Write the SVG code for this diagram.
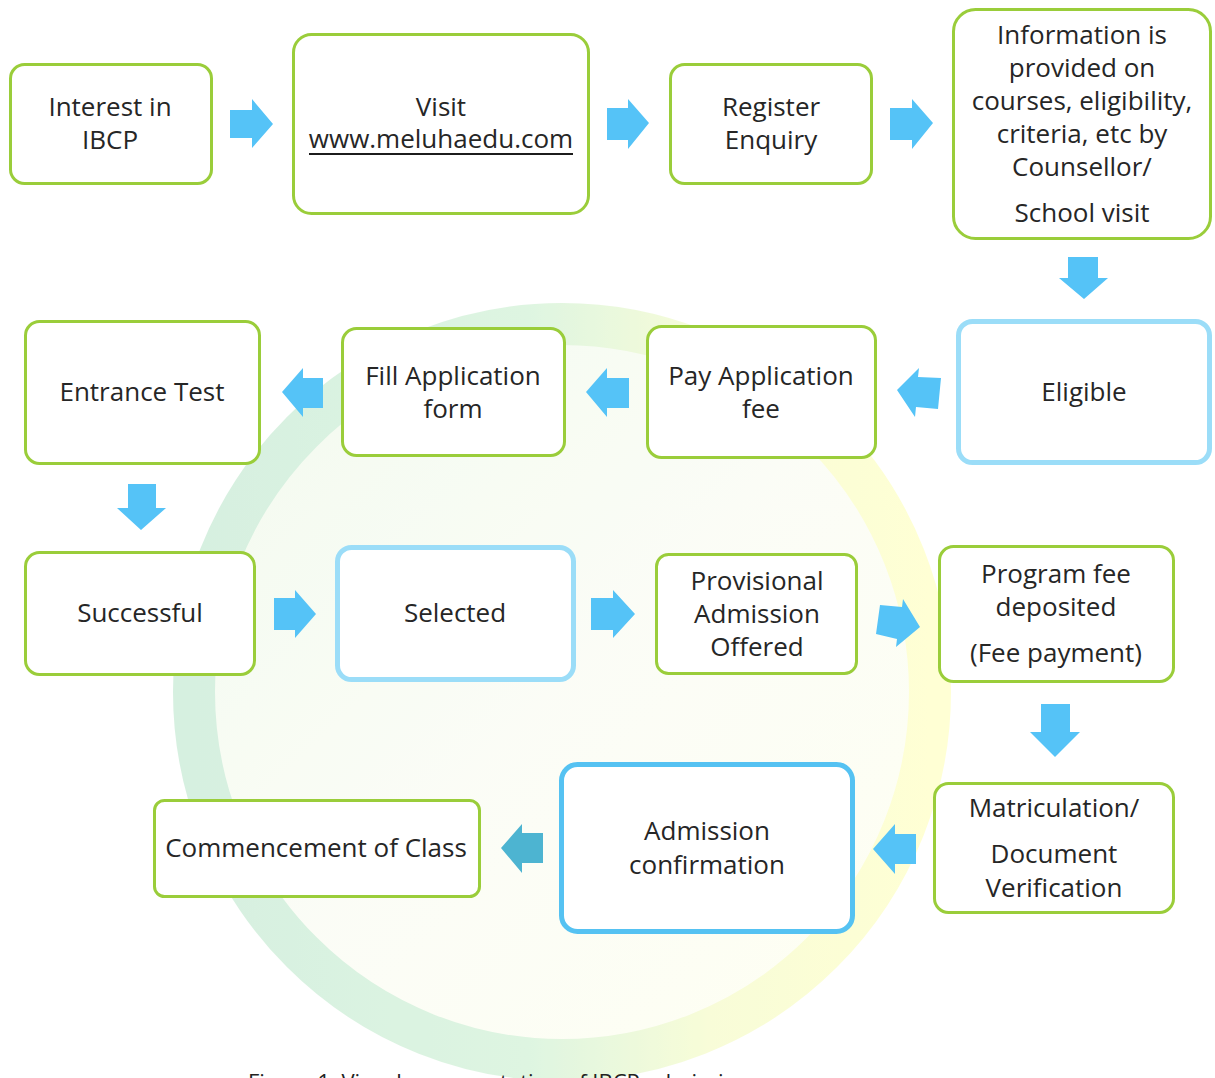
<svg xmlns="http://www.w3.org/2000/svg" width="1215" height="1078" viewBox="0 0 1215 1078">
<style>
.g{fill:#fff;stroke:#9ACD3A;stroke-width:3}
.lb{fill:#fff;stroke:#9BDDF8;stroke-width:5}
.bb{fill:#fff;stroke:#55C2F2;stroke-width:5}
.t{font-family:"Open Sans","Noto Sans","Liberation Sans",sans-serif;font-size:26px;fill:#262626;text-anchor:middle}
.a{fill:#55C3F7}
.cap{font-family:"Open Sans","Noto Sans","Liberation Sans",sans-serif;font-size:22px;fill:#222}
</style>
<defs>
<linearGradient id="ring" x1="0" y1="0" x2="1" y2="0">
<stop offset="0" stop-color="#C9EBD6"/>
<stop offset="0.45" stop-color="#D3F2D8"/>
<stop offset="0.7" stop-color="#F6FCCB"/>
<stop offset="1" stop-color="#FFFFC6"/>
</linearGradient>
<linearGradient id="disc" x1="0" y1="0" x2="1" y2="1">
<stop offset="0" stop-color="#E3F4DC"/>
<stop offset="0.5" stop-color="#F7FBEC"/>
<stop offset="1" stop-color="#FFFFE4"/>
</linearGradient>
</defs>
<rect width="1215" height="1078" fill="#fff"/>
<g id="watermark" opacity="0.75">
<circle cx="562" cy="692" r="355" fill="url(#disc)" opacity="0.6"/>
<circle cx="562" cy="692" r="368" fill="none" stroke="url(#ring)" stroke-width="42"/>
</g>
<g id="connectors">
<polygon id="a1" class="a" points="230,110 252,110 252,99 273,124 252,148 252,138 230,138"/>
<polygon id="a2" class="a" points="607,108 628,108 628,99 649,123 628,149 628,140 607,140"/>
<polygon id="a3" class="a" points="890,108 912,108 912,99 933,123 912,149 912,140 890,140"/>
<polygon id="a4" class="a" points="1068,257 1098,257 1098,278 1108,278 1084,299 1059,278 1068,278"/>
<polygon id="a5" class="a" points="897,390 919,368 918,377 941,378 938,409 916,407 915,417"/>
<polygon id="a6" class="a" points="586,392 607,368 607,378 629,378 629,408 607,408 607,417"/>
<polygon id="a7" class="a" points="282,392 303,368 303,378 323,378 323,408 303,408 303,417"/>
<polygon id="a8" class="a" points="128,484 156,484 156,508 166,508 141,530 117,508 128,508"/>
<polygon id="a9" class="a" points="274,598 295,598 295,590 316,614 295,638 295,630 274,630"/>
<polygon id="a10" class="a" points="591,598 613,598 613,590 635,614 613,638 613,630 591,630"/>
<polygon id="a11" class="a" points="880,605 902,607 903,599 920,627 896,647 897,639 876,634"/>
<polygon id="a12" class="a" points="1041,704 1070,704 1070,732 1080,732 1055,757 1030,732 1041,732"/>
<polygon id="a13" class="a" points="873,849 895,824 895,834 916,834 916,864 895,864 895,874"/>
<polygon id="a14" fill="#4DB4D1" points="501,848 522,824 522,833 543,833 543,863 522,863 522,873"/>
</g>
<g id="n1"><rect class="g" x="10.5" y="64.5" width="201" height="119" rx="14"/><text class="t" x="110" y="116">Interest in</text><text class="t" x="110" y="149">IBCP</text></g>
<g id="n2"><rect class="g" x="293.5" y="34.5" width="295" height="179" rx="18"/><text class="t" x="441" y="116">Visit</text><text class="t" x="441" y="148">www.meluhaedu.com</text><line x1="309" y1="154" x2="573" y2="154" stroke="#1c1c1c" stroke-width="2"/></g>
<g id="n3"><rect class="g" x="670.5" y="64.5" width="201" height="119" rx="14"/><text class="t" x="771" y="116">Register</text><text class="t" x="771" y="149">Enquiry</text></g>
<g id="n4"><rect class="g" x="953.5" y="9.5" width="257" height="229" rx="22"/><text class="t" x="1082" y="44">Information is</text><text class="t" x="1082" y="77">provided on</text><text class="t" x="1082" y="110">courses, eligibility,</text><text class="t" x="1082" y="143">criteria, etc by</text><text class="t" x="1082" y="176">Counsellor/</text><text class="t" x="1082" y="222">School visit</text></g>
<g id="n5"><rect class="lb" x="958.5" y="321.5" width="251" height="141" rx="14"/><text class="t" x="1084" y="401">Eligible</text></g>
<g id="n6"><rect class="g" x="647.5" y="326.5" width="228" height="131" rx="14"/><text class="t" x="761" y="385">Pay Application</text><text class="t" x="761" y="418">fee</text></g>
<g id="n7"><rect class="g" x="342.5" y="328.5" width="222" height="127" rx="14"/><text class="t" x="453" y="385">Fill Application</text><text class="t" x="453" y="418">form</text></g>
<g id="n8"><rect class="g" x="25.5" y="321.5" width="234" height="142" rx="14"/><text class="t" x="142" y="401">Entrance Test</text></g>
<g id="n9"><rect class="g" x="25.5" y="552.5" width="229" height="122" rx="14"/><text class="t" x="140" y="622">Successful</text></g>
<g id="n10"><rect class="lb" x="337.5" y="547.5" width="236" height="132" rx="14"/><text class="t" x="455" y="622">Selected</text></g>
<g id="n11"><rect class="g" x="656.5" y="554.5" width="200" height="119" rx="12"/><text class="t" x="757" y="590">Provisional</text><text class="t" x="757" y="623">Admission</text><text class="t" x="757" y="656">Offered</text></g>
<g id="n12"><rect class="g" x="939.5" y="546.5" width="234" height="135" rx="14"/><text class="t" x="1056" y="583">Program fee</text><text class="t" x="1056" y="616">deposited</text><text class="t" x="1056" y="662">(Fee payment)</text></g>
<g id="n13"><rect class="g" x="934.5" y="783.5" width="239" height="129" rx="14"/><text class="t" x="1054" y="817">Matriculation/</text><text class="t" x="1054" y="863">Document</text><text class="t" x="1054" y="897">Verification</text></g>
<g id="n14"><rect class="bb" x="561.5" y="764.5" width="291" height="167" rx="16"/><text class="t" x="707" y="840">Admission</text><text class="t" x="707" y="874">confirmation</text></g>
<g id="n15"><rect class="g" x="154.5" y="800.5" width="325" height="96" rx="10"/><text class="t" x="316" y="857">Commencement of Class</text></g>
<text class="cap" x="248" y="1090">Figure 1: Visual representation of IBCP admission process</text>
</svg>
